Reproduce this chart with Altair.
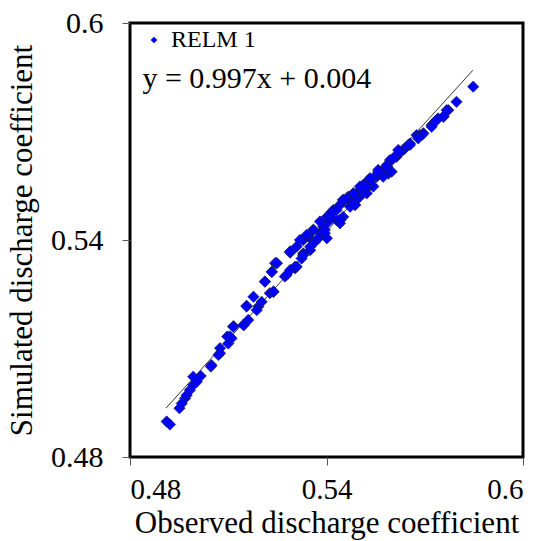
import altair as alt
import pandas as pd

observed = [
    0.4912, 0.4922, 0.4951, 0.4958, 0.4968, 0.4973, 0.4983, 0.4993, 0.5004, 0.5016,
    0.5047, 0.5070, 0.5075, 0.5100, 0.5097, 0.5110, 0.5116, 0.5148, 0.5161, 0.5156,
    0.5177, 0.5192, 0.5202, 0.5212, 0.5227, 0.5238, 0.5233, 0.5243, 0.5273, 0.5289,
    0.5304, 0.5324, 0.5329, 0.5350, 0.5289, 0.5309, 0.5329, 0.5345, 0.5355, 0.5365,
    0.5375, 0.5385, 0.5395, 0.5390, 0.5406, 0.5416, 0.5421, 0.5431, 0.5441, 0.5451,
    0.5451, 0.5467, 0.5477, 0.5487, 0.5502, 0.5512, 0.5523, 0.5528, 0.5538, 0.5553,
    0.5558, 0.5574, 0.5584, 0.5589, 0.5599, 0.5614, 0.5624, 0.5619, 0.5640, 0.5650,
    0.5675, 0.5685, 0.5696, 0.5721, 0.5731, 0.5741, 0.5757, 0.5772, 0.5797, 0.5848,
    0.5380, 0.5401, 0.5350, 0.5329, 0.5304, 0.5441, 0.5472, 0.5523, 0.5573, 0.5599,
    0.5416, 0.5360, 0.5319, 0.5289, 0.5462, 0.5502, 0.5553, 0.5634,
    0.4993, 0.5075, 0.5105, 0.5146, 0.5187, 0.5238, 0.5278, 0.5309,
    0.5156, 0.5212, 0.5233, 0.5248, 0.5289, 0.5115, 0.5049,
    0.5655, 0.5614, 0.5594, 0.5584, 0.5558, 0.5533, 0.5512, 0.5482, 0.5451, 0.5441,
    0.5401, 0.5380, 0.5339, 0.5248, 0.5492, 0.5543,
    0.5767, 0.5757, 0.5736, 0.5721, 0.5691, 0.5680, 0.5655, 0.5624, 0.5604, 0.5584,
    0.5558, 0.5533, 0.5523, 0.5502, 0.5482, 0.5487, 0.5451, 0.5431, 0.5411, 0.5441,
    0.5395, 0.5360,
]
simulated = [
    0.4898, 0.4890, 0.4935, 0.4948, 0.4962, 0.4971, 0.4985, 0.4999, 0.5008, 0.5024,
    0.5050, 0.5082, 0.5101, 0.5114, 0.5133, 0.5128, 0.5162, 0.5165, 0.5179, 0.5218,
    0.5243, 0.5216, 0.5229, 0.5285, 0.5253, 0.5257, 0.5312, 0.5336, 0.5299, 0.5317,
    0.5322, 0.5349, 0.5363, 0.5372, 0.5365, 0.5382, 0.5400, 0.5409, 0.5423, 0.5395,
    0.5405, 0.5414, 0.5428, 0.5437, 0.5451, 0.5474, 0.5483, 0.5455, 0.5446, 0.5464,
    0.5511, 0.5520, 0.5506, 0.5497, 0.5520, 0.5529, 0.5543, 0.5566, 0.5552, 0.5575,
    0.5584, 0.5594, 0.5603, 0.5584, 0.5621, 0.5630, 0.5644, 0.5649, 0.5654, 0.5663,
    0.5690, 0.5690, 0.5695, 0.5718, 0.5727, 0.5736, 0.5741, 0.5759, 0.5782, 0.5824,
    0.5419, 0.5405, 0.5381, 0.5358, 0.5326, 0.5455, 0.5492, 0.5529, 0.5575, 0.5589,
    0.5478, 0.5428, 0.5400, 0.5368, 0.5515, 0.5538, 0.5580, 0.5649,
    0.5022, 0.5087, 0.5133, 0.5165, 0.5206, 0.5257, 0.5303, 0.5326,
    0.5216, 0.5285, 0.5312, 0.5336, 0.5368, 0.5160, 0.5054,
    0.5667, 0.5635, 0.5621, 0.5607, 0.5594, 0.5561, 0.5552, 0.5529, 0.5506, 0.5497,
    0.5464, 0.5451, 0.5414, 0.5336, 0.5511, 0.5548,
    0.5759, 0.5741, 0.5732, 0.5713, 0.5690, 0.5681, 0.5663, 0.5644, 0.5626, 0.5603,
    0.5589, 0.5571, 0.5548, 0.5548, 0.5529, 0.5497, 0.5511, 0.5483, 0.5464, 0.5455,
    0.5419, 0.5428,
]
series_name = "RELM 1"
slope = 0.997
intercept = 0.004
trend_x = [0.491, 0.5847]
axis_ticks = [0.48, 0.54, 0.6]
equation_text = "y = 0.997x + 0.004"
equation_pos = {"x": 0.4838, "y": 0.5820}

FONT = "Liberation Serif"

pts = pd.DataFrame({"obs": observed, "sim": simulated, "series": series_name})
trend = pd.DataFrame({"obs": [trend_x[0]], "obs2": [trend_x[1]],
                      "sim": [slope * trend_x[0] + intercept],
                      "sim2": [slope * trend_x[1] + intercept]})
eq = pd.DataFrame({"obs": [equation_pos["x"]], "sim": [equation_pos["y"]], "t": [equation_text]})

xscale = alt.Scale(domain=[0.48, 0.6], nice=False, zero=False)
yscale = alt.Scale(domain=[0.48, 0.6], nice=False, zero=False)

xaxis = alt.Axis(values=axis_ticks, format="~g", title="Observed discharge coefficient",
                 grid=False, domain=False, tickSize=8, tickColor="#555", tickWidth=1,
                 labelFont=FONT, labelFontSize=29, labelColor="black", labelPadding=10,
                 titleFont=FONT, titleFontSize=31, titleFontWeight="normal", titleColor="black",
                 titlePadding=4)
yaxis = alt.Axis(values=axis_ticks, format="~g", title="Simulated discharge coefficient",
                 grid=False, domain=False, tickSize=8, tickColor="#555", tickWidth=1,
                 labelFont=FONT, labelFontSize=30, labelColor="black", labelPadding=19,
                 titleFont=FONT, titleFontSize=31, titleFontWeight="normal", titleColor="black",
                 titlePadding=12)

points = alt.Chart(pts).mark_point(shape="diamond", filled=True, size=130, opacity=1,
                                   stroke="#222244", strokeWidth=0.6).encode(
    x=alt.X("obs:Q", scale=xscale, axis=xaxis),
    y=alt.Y("sim:Q", scale=yscale, axis=yaxis),
    color=alt.Color("series:N", scale=alt.Scale(range=["#0000ff"]),
                    legend=alt.Legend(title=None, orient="none", legendX=12, legendY=5,
                                      symbolType="diamond", symbolSize=45,
                                      symbolStrokeWidth=0,
                                      labelFont=FONT, labelFontSize=24, labelColor="black",
                                      labelOffset=5, padding=0)),
)

line = alt.Chart(trend).mark_rule(color="black", strokeWidth=0.8).encode(
    x=alt.X("obs:Q", scale=xscale), x2="obs2:Q",
    y=alt.Y("sim:Q", scale=yscale), y2="sim2:Q",
)

text = alt.Chart(eq).mark_text(align="left", baseline="alphabetic", font=FONT,
                               fontSize=30, color="black").encode(
    x=alt.X("obs:Q", scale=xscale), y=alt.Y("sim:Q", scale=yscale), text="t:N")

chart = alt.layer(line, points, text).properties(
    width=393, height=434,
    background="white",
    autosize=alt.AutoSizeParams(type="none"),
    padding={"left": 130, "top": 23, "right": 21, "bottom": 84},
).configure_view(stroke="black", strokeWidth=3)

chart.save("out.html", embed_options={"renderer": "svg", "actions": False})
